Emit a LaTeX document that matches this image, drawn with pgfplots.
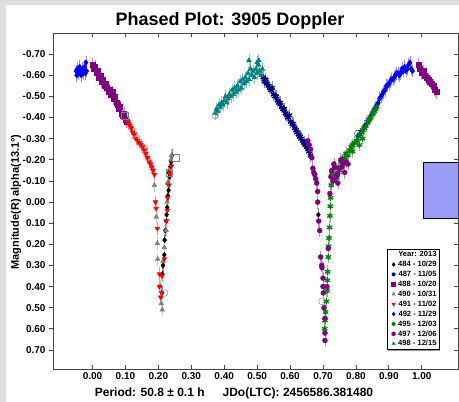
\documentclass[border=0pt]{standalone}
\usepackage{fontspec}
\setmainfont{Liberation Sans}
\usepackage{pgfplots}
\pgfplotsset{compat=1.18}
\usetikzlibrary{shadows}

\definecolor{navyc}{RGB}{0,0,128}
\definecolor{purp}{RGB}{128,0,128}
\definecolor{grayc}{RGB}{128,128,128}
\definecolor{tealc}{RGB}{0,128,128}
\definecolor{greenc}{RGB}{0,128,0}
\definecolor{boxblue}{RGB}{155,155,248}
\definecolor{bggray}{RGB}{222,222,222}
\definecolor{axgray}{RGB}{70,70,70}

\pgfplotsset{
  ph/.style 2 args={only marks, mark=#1, color=#2, mark size=2.8pt,
    error bars/y dir=both, error bars/y fixed=0.022,
    error bars/error bar style={color=#2!45, line width=0.6pt},
    error bars/error mark options={color=#2!45, mark size=1.8pt, line width=0.6pt}},
  frame/.style={at={(0,0)}, anchor=south west, scale only axis,
    width=405pt, height=336pt,
    xmin=-0.12, xmax=1.11, ymin=-0.80, ymax=0.79, y dir=reverse,
    major tick length=4pt,
    every tick/.style={axgray, line width=0.8pt},
    ytick={-0.7,-0.6,-0.5,-0.4,-0.3,-0.2,-0.1,0,0.1,0.2,0.3,0.4,0.5,0.6,0.7},
    ticklabel style={font=\bfseries\fontsize{10}{10}\selectfont},
    /pgf/number format/fixed, /pgf/number format/fixed zerofill,
    /pgf/number format/precision=2, /pgf/number format/assume math mode=true},
}

\begin{document}
\begin{tikzpicture}
\path[use as bounding box, fill=bggray] (-53pt,-33pt) rectangle (406pt,369pt);
\fill[white] (-47pt,-33pt) rectangle (406pt,364pt);

% left y ticks point outward, with labels
\begin{axis}[frame, axis line style={draw=none}, xtick=\empty,
  ytick pos=left, tick align=outside]
\end{axis}

\begin{axis}[frame, tick align=inside, xtick pos=both, ytick pos=right,
  yticklabels={},
  xtick={0,0.1,0.2,0.3,0.4,0.5,0.6,0.7,0.8,0.9,1.0},
  axis line style={axgray, line width=0.9pt},
  legend style={at={(0.953,0.057)}, anchor=south east, draw=black,
    fill=white, drop shadow={shadow xshift=1.2pt, shadow yshift=-1.2pt, opacity=0.8},
    font=\bfseries\fontsize{7.6}{7.6}\selectfont, inner sep=1.2pt, row sep=0.5pt,
    column sep=1.5pt,
    nodes={inner sep=1pt, text height=5.9pt, text depth=1.5pt}},
  legend image code/.code={\draw[mark repeat=2, mark phase=2] plot coordinates {(0cm,0cm)(0.18cm,0cm)(0.36cm,0cm)};},
  legend image post style={mark size=2pt},
  legend cell align=right]

\draw[fill=boxblue, line width=0.8pt] (axis cs:1.005,-0.19) rectangle (axis cs:1.2,0.075);

\addlegendimage{empty legend}
\addlegendentry{Year: 2013}

% 484 - 10/29
\addplot[ph={diamond*}{black}, mark size=2.6pt] coordinates {
(0.241,-0.22)(0.239,-0.19)(0.237,-0.17)(0.234,-0.12)(0.231,-0.14)(0.229,-0.09)
(0.231,-0.055)(0.229,-0.03)(0.227,0.025)(0.225,0.06)(0.224,0.09)(0.221,0.135)
(0.219,0.18)(0.218,0.25)(0.214,0.30)(0.212,0.34)(0.211,0.43)(0.686,0.06)};
\addlegendentry{484 - 10/29}

% 487 - 11/05
\addplot[ph={asterisk}{navyc}, mark options={line width=1.3pt}, mark size=3.1pt] coordinates {
(0.518,-0.59)(0.522,-0.57)(0.526,-0.58)(0.530,-0.56)(0.534,-0.55)(0.538,-0.54)
(0.542,-0.53)(0.546,-0.54)(0.550,-0.51)(0.554,-0.50)(0.558,-0.50)(0.562,-0.48)
(0.566,-0.47)(0.570,-0.47)(0.574,-0.45)(0.578,-0.44)(0.582,-0.44)(0.586,-0.42)
(0.590,-0.41)(0.594,-0.40)(0.598,-0.41)(0.602,-0.38)(0.606,-0.37)(0.610,-0.37)
(0.614,-0.35)(0.618,-0.34)(0.622,-0.33)(0.626,-0.32)(0.630,-0.31)(0.634,-0.30)
(0.638,-0.29)(0.642,-0.28)(0.646,-0.27)(0.650,-0.26)(0.654,-0.25)(0.658,-0.24)
(0.662,-0.22)};
\addlegendentry{487 - 11/05}

% 488 - 10/20
\addplot[ph={square*}{purp}, mark size=2.5pt] coordinates {
(0.000,-0.65)(0.004,-0.63)(0.008,-0.64)(0.012,-0.61)(0.016,-0.62)(0.020,-0.59)
(0.024,-0.60)(0.028,-0.57)(0.032,-0.58)(0.036,-0.55)(0.040,-0.56)(0.044,-0.54)
(0.048,-0.52)(0.052,-0.53)(0.056,-0.51)(0.060,-0.52)(0.064,-0.49)(0.068,-0.50)
(0.072,-0.47)(0.076,-0.46)(0.080,-0.44)(0.084,-0.45)(0.088,-0.42)(0.092,-0.41)
(0.096,-0.42)(0.100,-0.39)(0.104,-0.38)
(0.990,-0.65)(0.995,-0.63)(1.000,-0.61)(1.005,-0.62)(1.010,-0.60)(1.015,-0.59)
(1.020,-0.58)(1.025,-0.57)(1.030,-0.56)(1.035,-0.55)(1.040,-0.53)(1.045,-0.52)};
\addlegendentry{488 - 10/20}

% 490 - 10/31
\addplot[ph={triangle*}{grayc}] coordinates {
(0.155,-0.25)(0.167,-0.21)(0.180,-0.17)(0.188,-0.08)(0.194,0.07)(0.197,0.195)
(0.198,0.27)(0.206,0.40)(0.209,0.48)(0.212,0.51)(0.240,-0.22)(0.238,-0.20)
(0.228,-0.09)(0.226,0.00)(0.224,0.135)(0.218,0.215)(0.214,0.28)};
\addlegendentry{490 - 10/31}

% 491 - 11/02
\addplot[ph={triangle*}{red}, mark options={rotate=180}] coordinates {
(0.106,-0.38)(0.110,-0.37)(0.114,-0.36)(0.118,-0.35)(0.122,-0.33)(0.127,-0.32)
(0.132,-0.30)(0.137,-0.29)(0.142,-0.28)(0.147,-0.27)(0.152,-0.26)(0.158,-0.245)
(0.162,-0.23)(0.167,-0.21)(0.172,-0.19)(0.176,-0.18)(0.180,-0.165)(0.184,-0.15)
(0.188,-0.13)(0.191,0.00)(0.193,0.03)(0.197,0.125)(0.203,0.34)(0.211,0.35)
(0.203,0.40)(0.207,0.45)(0.210,0.43)(0.240,-0.17)(0.236,-0.13)(0.234,-0.14)
(0.232,-0.08)(0.228,-0.02)(0.227,0.04)(0.224,0.09)(0.218,0.27)};
\addlegendentry{491 - 11/02}

% 492 - 11/29
\addplot[ph={diamond*}{blue}] coordinates {
(-0.050,-0.62)(-0.048,-0.60)(-0.046,-0.63)(-0.043,-0.61)(-0.041,-0.62)(-0.039,-0.64)
(-0.036,-0.62)(-0.034,-0.60)(-0.031,-0.63)(-0.029,-0.61)(-0.027,-0.62)(-0.024,-0.64)
(-0.022,-0.61)(-0.020,-0.66)(-0.018,-0.62)
(0.806,-0.31)(0.815,-0.33)(0.826,-0.36)(0.833,-0.37)(0.840,-0.39)(0.846,-0.41)
(0.851,-0.42)(0.856,-0.44)(0.860,-0.45)(0.864,-0.46)(0.868,-0.47)(0.872,-0.49)
(0.876,-0.50)(0.880,-0.51)(0.884,-0.52)(0.888,-0.53)(0.892,-0.55)(0.896,-0.55)
(0.900,-0.56)(0.904,-0.57)(0.908,-0.58)(0.912,-0.58)(0.916,-0.59)(0.920,-0.60)
(0.924,-0.61)(0.928,-0.61)(0.932,-0.60)(0.936,-0.61)(0.940,-0.63)(0.944,-0.62)
(0.948,-0.64)(0.952,-0.62)(0.956,-0.63)(0.960,-0.65)(0.964,-0.66)(0.968,-0.63)
(0.972,-0.62)};
\addlegendentry{492 - 11/29}

% 495 - 12/03
\addplot[ph={asterisk}{greenc}, mark options={line width=1.3pt}, mark size=3.1pt] coordinates {
(0.705,0.60)(0.706,0.56)(0.708,0.52)(0.710,0.47)(0.712,0.42)(0.713,0.37)
(0.714,0.33)(0.716,0.26)(0.717,0.21)(0.718,0.17)(0.720,0.12)(0.721,0.065)
(0.722,0.02)(0.723,-0.02)(0.725,-0.08)(0.727,-0.135)(0.732,-0.10)(0.737,-0.13)
(0.742,-0.115)(0.746,-0.16)(0.750,-0.15)(0.755,-0.19)(0.760,-0.20)(0.765,-0.21)
(0.770,-0.23)(0.775,-0.22)(0.781,-0.245)(0.786,-0.26)(0.790,-0.27)(0.796,-0.28)
(0.803,-0.29)(0.808,-0.31)(0.812,-0.32)(0.817,-0.33)(0.821,-0.34)(0.826,-0.35)
(0.830,-0.36)(0.836,-0.38)(0.840,-0.39)(0.845,-0.40)(0.851,-0.42)(0.856,-0.43)
(0.860,-0.44)(0.863,-0.45)(0.810,-0.27)(0.820,-0.30)(0.790,-0.24)};
\addlegendentry{495 - 12/03}

% 497 - 12/06
\addplot[ph={*}{purp}, mark size=2.5pt] coordinates {
(0.654,-0.29)(0.658,-0.27)(0.662,-0.25)(0.666,-0.21)(0.669,-0.16)(0.672,-0.14)
(0.675,-0.13)(0.678,-0.11)(0.681,-0.09)(0.684,-0.05)(0.684,0.00)(0.687,0.09)
(0.690,0.135)(0.693,0.26)(0.696,0.30)(0.697,0.31)(0.700,0.36)(0.700,0.40)
(0.701,0.43)(0.703,0.50)(0.706,0.55)(0.706,0.62)(0.706,0.655)
(0.721,-0.04)(0.724,-0.12)(0.727,-0.15)(0.730,-0.10)(0.733,-0.18)(0.736,-0.165)
(0.740,-0.12)(0.745,-0.135)(0.745,-0.09)(0.750,-0.16)(0.754,-0.20)(0.757,-0.165)
(0.762,-0.18)(0.766,-0.14)(0.770,-0.19)(0.776,-0.18)
(0.712,0.40)(0.716,0.22)};
\addlegendentry{497 - 12/06}

% 498 - 12/15
\addplot[ph={triangle*}{tealc}] coordinates {
(0.372,-0.42)(0.376,-0.44)(0.380,-0.43)(0.384,-0.46)(0.388,-0.45)(0.392,-0.47)
(0.396,-0.46)(0.400,-0.48)(0.404,-0.50)(0.408,-0.47)(0.412,-0.49)(0.416,-0.51)
(0.420,-0.50)(0.424,-0.53)(0.428,-0.51)(0.432,-0.54)(0.436,-0.52)(0.440,-0.55)
(0.444,-0.53)(0.448,-0.57)(0.452,-0.54)(0.456,-0.58)(0.460,-0.56)(0.464,-0.59)
(0.468,-0.57)(0.472,-0.61)(0.476,-0.58)(0.480,-0.63)(0.484,-0.60)(0.488,-0.62)
(0.492,-0.59)(0.496,-0.63)(0.500,-0.61)(0.504,-0.65)(0.508,-0.62)(0.512,-0.60)
(0.516,-0.63)(0.475,-0.67)(0.505,-0.67)(0.500,-0.66)};
\addlegendentry{498 - 12/15}

% highlighted points (open markers)
\addplot[only marks, mark=o, mark size=3.4pt, grayc, forget plot] coordinates {
(0.158,-0.255)(0.219,0.43)(0.697,0.47)(0.373,-0.41)};
\addplot[only marks, mark=o, mark size=3.4pt, blue, forget plot] coordinates {
(0.806,-0.325)};
\addplot[only marks, mark=square, mark size=3.4pt, grayc, forget plot] coordinates {
(0.252,-0.21)(0.233,-0.14)(0.097,-0.41)};
\end{axis}

\node[anchor=base, font=\bfseries\fontsize{18}{18}\selectfont] at (177pt,343pt) {Phased Plot: 3905 Doppler};
\node[anchor=base, font=\bfseries\fontsize{12}{12}\selectfont] at (181pt,-28pt) {Period: 50.8 ± 0.1 h\hspace{18pt}JDo(LTC): 2456586.381480};
\node[rotate=90, font=\bfseries\fontsize{11}{11}\selectfont] at (-37pt,167pt) {Magnitude(R) alpha(13.1°)};
\end{tikzpicture}
\end{document}
